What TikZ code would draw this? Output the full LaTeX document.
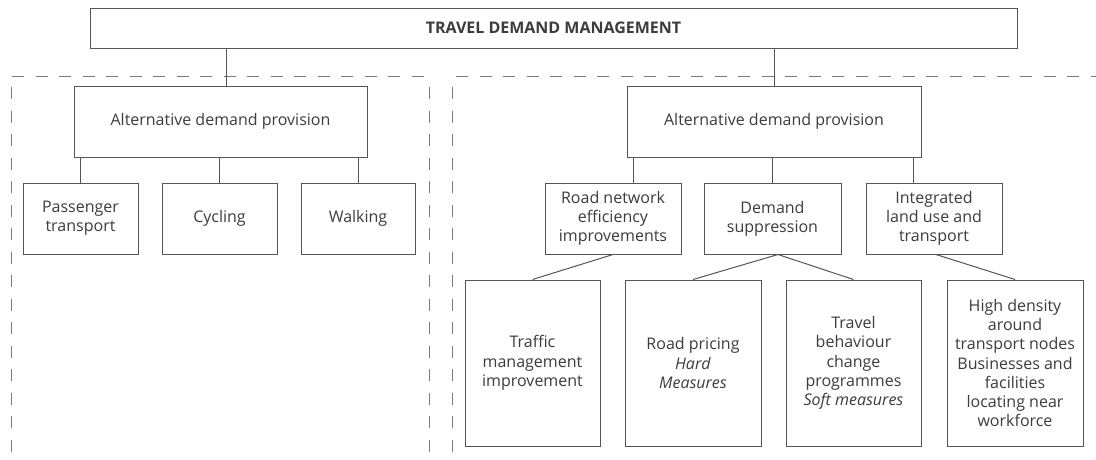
\documentclass[tikz,border=0pt]{standalone}
\usepackage{fontspec}
\setmainfont{Open Sans}
\definecolor{boxline}{HTML}{555555}
\definecolor{txt}{HTML}{3C3C3C}
\definecolor{dashc}{HTML}{7A7A7A}
\begin{document}
\begin{tikzpicture}[x=1pt,y=-1pt,
  bx/.style={draw=boxline, line width=1pt, rectangle, inner sep=0pt, align=center,
    text=txt, font=\fontsize{16}{19.3}\selectfont},
  conn/.style={draw=boxline, line width=1pt},
  region/.style={draw=dashc, line width=1pt, dash pattern=on 12pt off 11.5pt}]
\useasboundingbox (0,0) rectangle (1096,459);
\fill[white] (0,0) rectangle (1096,459);

% dashed regions
\coordinate (lTL) at (12,76);
\coordinate (lTR) at (426,76);
\coordinate (lVL) at (11,87);
\coordinate (lVLb) at (11,455);
\coordinate (lVR) at (429,87);
\coordinate (lVRb) at (429,455);
\coordinate (rTL) at (456,76);
\coordinate (rTR) at (1096,76);
\coordinate (rVL) at (452,87);
\coordinate (rVLb) at (452,459);
\draw[region] (lTL) -- (lTR);
\draw[region] (lVL) -- (lVLb);
\draw[region] (lVR) -- (lVRb);
\draw[region] (rTL) -- (rTR);
\draw[region] (rVL) -- (rVLb);

% nodes
\node[bx, minimum width=927pt, minimum height=40pt, font=\fontsize{16}{19.3}\selectfont\bfseries] (top) at (553.5,28) {TRAVEL DEMAND MANAGEMENT};

\node[bx, minimum width=293pt, minimum height=71pt] (altL) at (220.5,121.5) {Alternative demand provision};
\node[bx, minimum width=294pt, minimum height=71pt] (altR) at (774,121.5) {Alternative demand provision};

\node[bx, minimum width=115pt, minimum height=71pt] (pass) at (80.5,218.5) {Passenger\\transport};
\node[bx, minimum width=115pt, minimum height=71pt] (cyc) at (219.5,218.5) {Cycling};
\node[bx, minimum width=114pt, minimum height=71pt] (walk) at (358,218.5) {Walking};

\node[bx, minimum width=136pt, minimum height=71pt] (road) at (613,218.5) {Road network\\efficiency\\improvements};
\node[bx, minimum width=137pt, minimum height=71pt] (dem) at (772.5,218.5) {Demand\\suppression};
\node[bx, minimum width=136pt, minimum height=71pt] (integ) at (934,218.5) {Integrated\\land use and\\transport};

\node[bx, minimum width=135pt, minimum height=166pt] (traffic) at (532.5,363) {Traffic\\management\\improvement};
\node[bx, minimum width=136pt, minimum height=166pt] (pricing) at (693,363) {Road pricing\\\textit{Hard}\\\textit{Measures}};
\node[bx, minimum width=135pt, minimum height=166pt] (travel) at (853.5,363) {Travel\\behaviour\\change\\programmes\\\textit{Soft measures}};
\node[bx, minimum width=136pt, minimum height=166pt] (hd) at (1015,363) {High density\\around\\transport nodes\\Businesses and\\facilities\\locating near\\workforce};

% connectors
\draw[conn] ([xshift=5.5pt]altL.north) -- ([xshift=5.5pt]altL.north |- top.south);
\draw[conn] (altR.north) -- (altR.north |- top.south);

\draw[conn] (pass.north) -- (pass.north |- altL.south);
\draw[conn] (cyc.north) -- (cyc.north |- altL.south);
\draw[conn] (walk.north) -- (walk.north |- altL.south);

\draw[conn] ([xshift=7pt]altR.south west) -- ([xshift=7pt]altR.south west |- road.north);
\draw[conn] (dem.north) -- (dem.north |- altR.south);
\draw[conn] ([xshift=-8pt]altR.south east) -- ([xshift=-8pt]altR.south east |- integ.north);

\draw[conn] (road.south) -- (traffic.north);
\draw[conn] ([xshift=5.5pt]dem.south) -- (pricing.north);
\draw[conn] ([xshift=5.5pt]dem.south) -- (travel.north);
\draw[conn] ([xshift=2pt]integ.south) -- (hd.north);
\end{tikzpicture}
\end{document}
